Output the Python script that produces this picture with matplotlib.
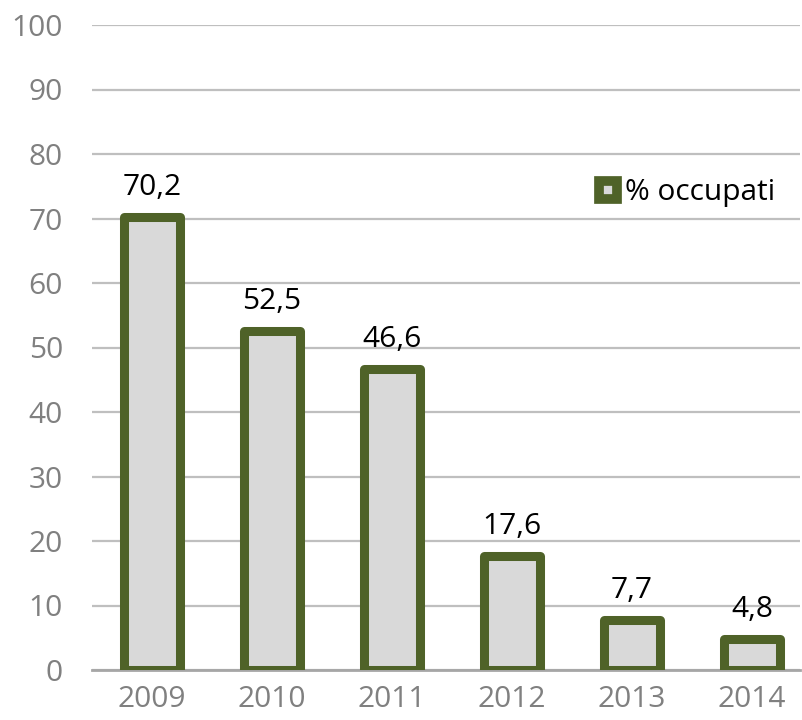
import matplotlib.pyplot as plt
from matplotlib.lines import Line2D

years = ["2009", "2010", "2011", "2012", "2013", "2014"]
occupati = [70.2, 52.5, 46.6, 17.6, 7.7, 4.8]
labels = ["70,2", "52,5", "46,6", "17,6", "7,7", "4,8"]
yticks = [0, 10, 20, 30, 40, 50, 60, 70, 80, 90, 100]

green = "#4F6228"
fill = "#D9D9D9"
grey = "#808080"

plt.rcParams["font.family"] = ["Open Sans", "DejaVu Sans"]

fig = plt.figure(figsize=(8.02, 7.2), dpi=100)
ax = fig.add_axes([92 / 802, 50 / 720, 708 / 802, 645 / 720])

x = list(range(len(years)))
ax.bar(x, occupati, width=0.46, color=fill, edgecolor=green, linewidth=6.5,
       joinstyle="round", zorder=3)

for xi, v, lab in zip(x, occupati, labels):
    ax.text(xi, v + 2.4, lab, ha="center", va="bottom", fontsize=21.5, color="black")

ax.set_ylim(0, 100)
ax.set_xlim(-0.5, 5.4)
ax.set_yticks(yticks)
ax.set_xticks(x)
ax.set_xticklabels(years)
ax.tick_params(axis="both", length=0, labelsize=21.5, colors=grey)
ax.tick_params(axis="y", pad=21)
ax.tick_params(axis="x", pad=11)
ax.yaxis.grid(True, color="#BFBFBF", linewidth=1.6, zorder=0)
ax.set_axisbelow(True)
for s in ["top", "right", "left"]:
    ax.spines[s].set_visible(False)
ax.spines["bottom"].set_color("#A6A6A6")
ax.spines["bottom"].set_linewidth(2)

handle = Line2D([], [], marker="s", linestyle="none", markersize=13,
                markerfacecolor=fill, markeredgecolor=green, markeredgewidth=7)
ax.legend([handle], ["% occupati"], loc="upper right", bbox_to_anchor=(0.99, 0.79),
          frameon=False, fontsize=21.5, handletextpad=-0.45, borderaxespad=0.2)

fig.savefig("out.png", dpi=100)
